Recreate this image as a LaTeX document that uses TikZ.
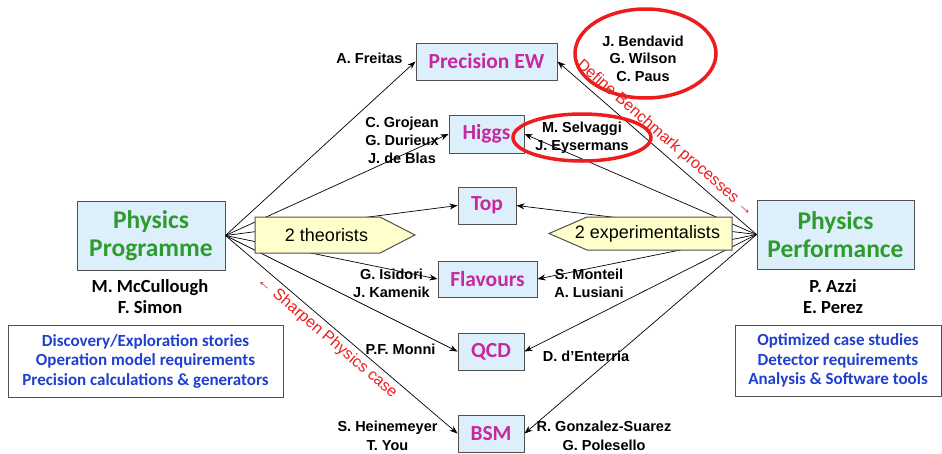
\documentclass[tikz,border=0pt]{standalone}
\usepackage{fontspec}
\setmainfont{Liberation Sans}
\newfontfamily\carlito{Carlito}
\usepackage{tikz}
\usetikzlibrary{positioning, arrows.meta}

\definecolor{topicfill}{HTML}{DDEFFA}
\definecolor{boxline}{HTML}{505050}
\definecolor{topicpink}{HTML}{C42A9E}
\definecolor{areagreen}{HTML}{2E9B2E}
\definecolor{taskblue}{HTML}{1F3FCF}
\definecolor{notered}{HTML}{EE1C1C}
\definecolor{sidefill}{HTML}{FFFFCC}

\tikzset{
	topic/.style={draw=boxline, fill=topicfill, line width=1pt, inner sep=0pt, text=topicpink, font=\carlito\bfseries\fontsize{21.5}{21.5}\selectfont},
	area/.style={topic, text=areagreen, align=center, font=\carlito\bfseries\fontsize{25.5}{28}\selectfont},
	who/.style={inner sep=0pt, align=center, font=\bfseries\fontsize{14.5}{18}\selectfont},
	lead/.style={inner sep=0pt, align=center, font=\carlito\bfseries\fontsize{18.5}{21}\selectfont},
	tasks/.style={draw=boxline, line width=1pt, inner sep=0pt, text=taskblue, align=center, font=\carlito\bfseries\fontsize{17}{19.5}\selectfont},
	side/.style={draw=boxline, fill=sidefill, line width=1pt},
	link/.style={-{Stealth[length=8pt,width=6pt]}, line width=.7pt},
	note/.style={text=notered, sloped, font=\fontsize{16}{16}\selectfont},
	circled/.style={draw=notered, line width=3.5pt},
}

\begin{document}
\begin{tikzpicture}[x=1pt, y=-1pt]
	\useasboundingbox (0,0) rectangle (942,453);

	\node	[area, minimum width=148pt, minimum height=69pt]	(prog)	at	(151,235.5)	{Physics\\Programme};
	\node	[area, minimum width=157pt, minimum height=69pt]	(perf)	at	(835.5,234.5)	{Physics\\Performance};
	\node	[lead]	(mccullough)	at	(150,296.5)	{M. McCullough\\F. Simon};
	\node	[lead]	(azzi)			at	(833,296.5)	{P. Azzi\\E. Perez};
	\node	[tasks, minimum width=275pt, minimum height=72pt]	(progtasks)	at	(145.5,361)	{Discovery/Exploration stories\\Operation model requirements\\Precision calculations \& generators};
	\node	[tasks, minimum width=206pt, minimum height=71pt]	(perftasks)	at	(838,360.5)	{Optimized case studies\\Detector requirements\\Analysis \& Software tools};

	\node	[topic, minimum width=141pt, minimum height=37pt]	(ew)	at	(486.5,61.5)	{Precision EW};
	\node	[topic, minimum width=75pt, minimum height=38pt]	(higgs)	at	(486.5,134)	{Higgs};
	\node	[topic, minimum width=58pt, minimum height=37pt]	(top)	at	(487,205.5)	{Top};
	\node	[topic, minimum width=99pt, minimum height=36pt]	(flav)	at	(487.5,279)	{Flavours};
	\node	[topic, minimum width=66pt, minimum height=37pt]	(qcd)	at	(491,351.5)	{QCD};
	\node	[topic, minimum width=66pt, minimum height=37pt]	(bsm)	at	(491,433.5)	{BSM};

	\node	[who]	(freitas)		at	(369.5,58)		{A. Freitas};
	\node	[who]	(grojean)		at	(402,140)		{C. Grojean\\G. Durieux\\J. de Blas};
	\node	[who]	(selvaggi)		at	(582,138)		{M. Selvaggi\\J. Eysermans};
	\node	[who, font=\bfseries\fontsize{14.5}{17.5}\selectfont]	(bendavid)	at	(643,58.5)	{J. Bendavid\\G. Wilson\\C. Paus};
	\node	[who]	(isidori)		at	(391.5,283)		{G. Isidori\\J. Kamenik};
	\node	[who]	(monteil)		at	(589,283)		{S. Monteil\\A. Lusiani};
	\node	[who]	(monni)			at	(400.5,349)		{P.F. Monni};
	\node	[who]	(enterria)		at	(586,356)		{D. d'Enterria};
	\node	[who, font=\bfseries\fontsize{14.5}{18.5}\selectfont]	(heinemeyer)	at	(387.5,436)	{S. Heinemeyer\\T. You};
	\node	[who, font=\bfseries\fontsize{14.5}{18.5}\selectfont]	(gonzalez)		at	(604,436)		{R. Gonzalez-Suarez\\G. Polesello};

	\foreach \t in {ew, higgs, top, flav, qcd, bsm} {
		\draw	[link]	(prog.east)	--	(\t.west);
		\draw	[link]	(perf.west)	--	(\t.east);
	}

	\filldraw	[side]	(255,217) -- (380,217) -- (415,235) -- (380,253) -- (255,253) -- cycle;
	\node	[font=\fontsize{18}{18}\selectfont]	(theo)	at	(326.5,235)	{2 theorists};
	\filldraw	[side]	(549,233.5) -- (587,217) -- (732,217) -- (732,250) -- (587,250) -- cycle;
	\node	[font=\fontsize{18}{18}\selectfont]	(expt)	at	(647.5,234)	{2 experimentalists};

	\path	(ew.east)	--	(perf.west)	node[note, midway, above, inner sep=5pt]	{Define Benchmark processes →};
	\path	(prog.east)	--	(bsm.west)	node[note, pos=.47, below, inner sep=4pt]	{← Sharpen Physics case};

	\draw	[circled]	(645.5,53.5)	ellipse	[x radius=70.5pt, y radius=44.5pt];
	\draw	[circled]	(582,137.5)	ellipse	[x radius=69pt, y radius=23.5pt];
\end{tikzpicture}
\end{document}
